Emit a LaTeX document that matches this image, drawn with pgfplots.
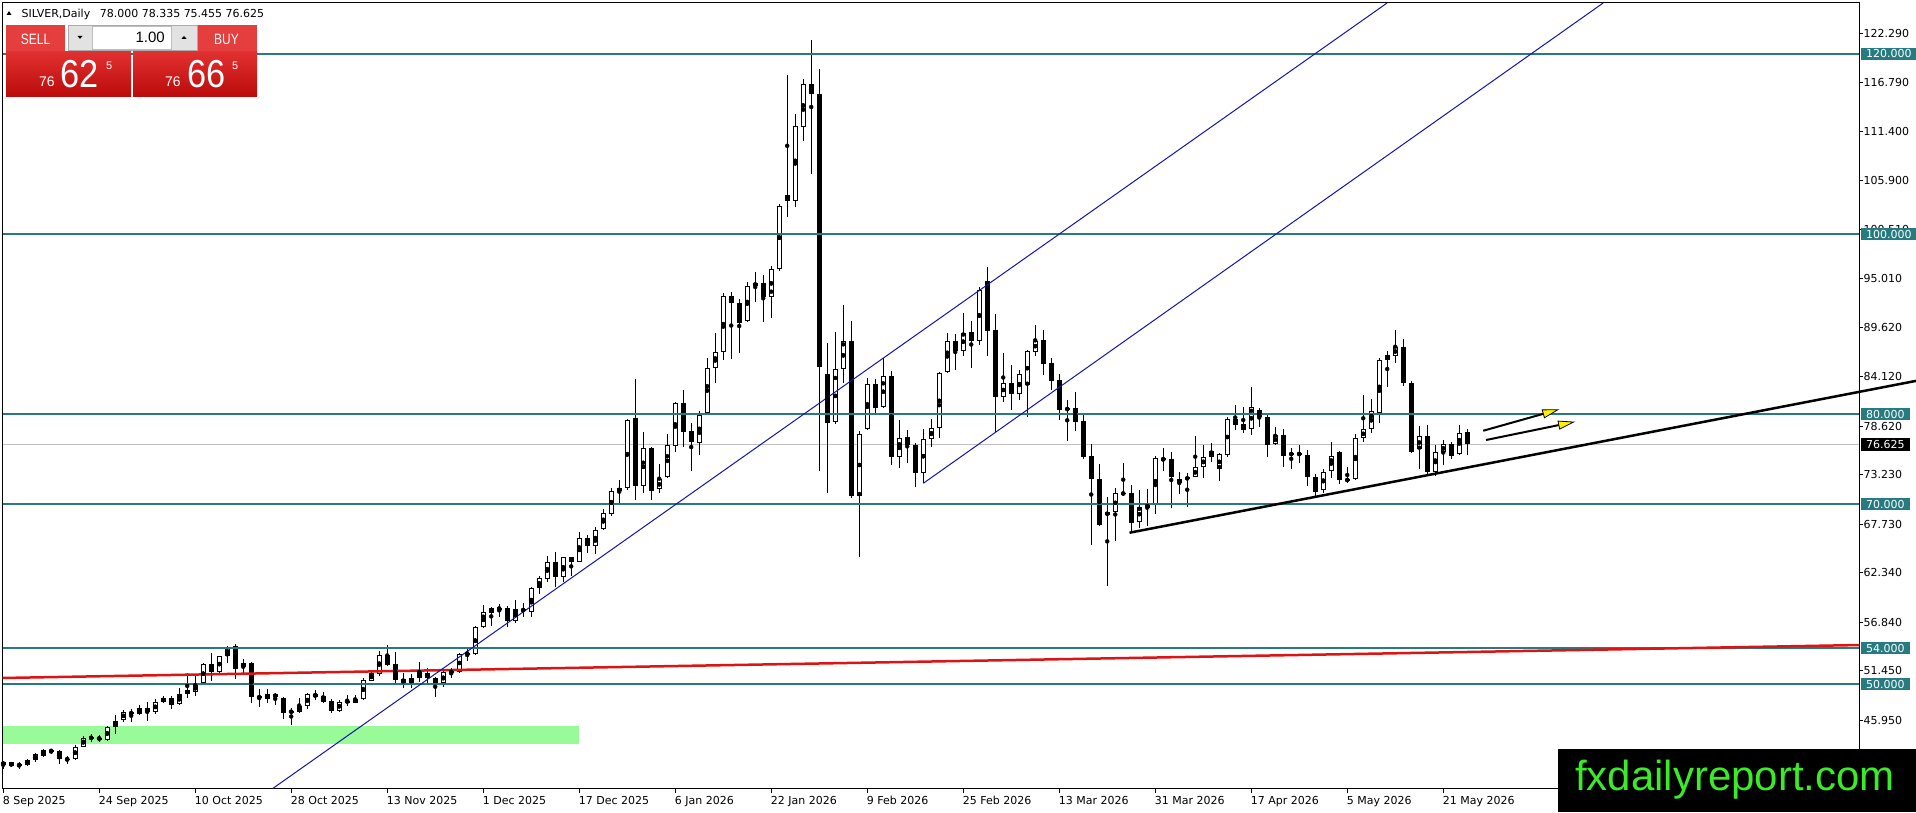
\documentclass[border=0pt]{standalone}
\usepackage{fontspec}
\setmainfont{DejaVu Sans}
\newfontfamily\lib{Liberation Sans}
\usepackage{pgfplots}
\pgfplotsset{compat=1.18}
\usepackage{pgfplotstable}
\usetikzlibrary{arrows.meta}

\definecolor{lvl}{RGB}{38,122,128}
\definecolor{chan}{RGB}{20,20,170}
\definecolor{trend}{RGB}{220,20,20}
\definecolor{zone}{RGB}{152,251,152}
\definecolor{bidgray}{RGB}{192,192,192}
\definecolor{tabred}{RGB}{228,62,62}
\definecolor{tabline}{RGB}{242,150,150}
\definecolor{blktop}{RGB}{226,48,48}
\definecolor{blkbot}{RGB}{186,10,10}
\definecolor{spinfill}{RGB}{226,226,226}
\definecolor{spinborder}{RGB}{170,170,170}
\definecolor{inborder}{RGB}{190,190,190}
\definecolor{wmgreen}{RGB}{60,235,40}

\pgfplotstableread{
i o h l c
0 40.96 41.48 40.56 41.37
1 41.30 41.37 40.78 40.85
2 40.85 41.30 40.59 41.15
3 41.04 41.67 40.85 41.52
4 41.52 42.37 41.30 42.22
5 42.04 42.78 41.93 42.63
6 42.59 42.81 42.18 42.55
7 42.55 42.67 41.07 41.63
8 41.67 42.04 41.15 41.63
9 41.70 43.19 41.56 43.04
10 43.00 44.22 42.96 44.04
11 44.00 44.44 43.60 44.04
12 43.93 44.30 43.60 43.96
13 43.78 45.33 43.70 45.22
14 45.18 46.56 44.48 45.93
15 46.04 47.11 45.81 46.89
16 46.89 47.22 45.74 46.63
17 46.63 47.67 46.56 47.30
18 47.33 47.96 45.85 46.89
19 46.93 48.33 46.63 47.96
20 47.96 48.63 47.85 48.48
21 48.44 48.67 47.26 47.70
22 47.74 49.52 47.67 48.85
23 48.89 51.19 48.40 49.33
24 49.15 51.07 48.67 49.89
25 50.07 52.30 50.00 52.22
26 52.22 53.48 50.37 51.37
27 51.37 53.15 51.26 53.07
28 53.11 54.22 52.37 54.15
29 54.22 54.44 50.52 51.70
30 51.85 52.74 51.11 52.33
31 52.37 52.48 47.85 48.59
32 48.67 49.41 47.48 48.40
33 48.37 49.41 47.85 48.85
34 48.89 49.04 47.67 48.52
35 48.48 48.59 46.07 46.81
36 46.96 47.30 45.48 46.89
37 46.93 48.41 46.81 47.56
38 47.52 49.04 47.22 48.93
39 48.85 49.33 48.22 48.59
40 48.67 49.11 47.93 48.04
41 48.15 48.30 46.81 47.04
42 47.04 48.22 46.85 48.00
43 48.04 48.74 47.56 48.07
44 47.93 48.74 47.85 48.33
45 48.30 50.63 48.22 50.44
46 50.37 51.56 50.33 51.19
47 51.11 53.67 50.89 53.22
48 53.22 54.33 52.00 52.11
49 52.22 53.52 50.15 50.44
50 50.56 51.26 49.52 50.07
51 50.15 51.11 49.52 50.63
52 50.63 52.44 50.26 51.37
53 51.26 51.74 50.07 50.63
54 50.63 50.81 48.59 50.07
55 50.07 51.63 49.63 51.33
56 51.33 51.74 50.63 51.37
57 51.37 53.41 51.26 53.30
58 53.37 53.85 52.59 53.41
59 53.33 56.44 53.22 56.30
60 56.30 58.78 56.19 57.96
61 57.93 58.59 56.44 58.44
62 58.37 58.89 57.48 58.40
63 58.44 58.67 56.37 57.04
64 57.04 59.33 56.81 58.30
65 58.33 58.96 57.48 58.07
66 58.04 60.74 57.41 60.63
67 60.63 61.96 60.00 61.74
68 61.70 64.22 61.33 63.52
69 63.52 64.63 60.74 61.85
70 61.85 64.15 61.33 64.07
71 64.07 64.15 62.00 63.59
72 63.59 66.85 63.52 66.19
73 66.19 66.55 64.59 65.37
74 65.37 67.44 64.41 67.07
75 67.19 69.41 67.11 68.96
76 68.85 71.74 68.70 71.41
77 71.40 72.67 70.07 71.74
78 71.74 79.41 71.56 79.33
79 79.59 83.89 70.44 72.04
80 72.04 77.99 71.19 76.22
81 76.26 76.37 70.44 71.48
82 71.63 74.44 71.19 72.74
83 73.04 77.78 72.85 76.56
84 76.48 81.37 75.81 81.19
85 81.19 82.67 76.30 78.04
86 78.11 78.96 73.70 76.93
87 76.81 80.37 75.44 79.89
88 80.15 86.18 80.00 85.07
89 85.07 88.96 83.41 86.85
90 86.85 93.41 86.00 93.11
91 93.11 93.59 86.07 92.30
92 92.30 92.74 86.81 90.07
93 90.33 94.67 90.26 94.22
94 94.26 95.74 92.48 94.52
95 94.52 95.44 90.26 92.96
96 92.96 96.48 90.70 96.07
97 96.07 103.33 95.93 103.11
98 104.33 117.67 101.93 103.70
99 103.70 113.33 102.96 111.99
100 111.93 117.26 110.37 116.63
101 116.63 121.56 106.67 115.52
102 115.55 118.30 73.70 85.18
103 84.44 87.85 71.26 79.04
104 79.07 89.11 78.90 84.96
105 84.96 92.07 83.41 88.07
106 88.07 90.30 70.63 70.89
107 70.93 78.15 64.07 77.74
108 78.30 83.96 78.22 83.33
109 83.33 83.85 80.15 80.70
110 80.74 86.18 80.63 84.22
111 84.22 84.81 74.33 75.19
112 75.19 79.33 73.96 77.30
113 77.41 78.22 74.59 76.52
114 76.56 76.81 71.93 73.41
115 73.41 78.30 72.37 77.19
116 77.19 79.41 76.37 78.41
117 78.41 84.63 77.33 84.52
118 84.70 89.04 84.59 88.11
119 88.11 88.89 84.89 87.04
120 87.04 91.19 86.48 89.04
121 89.07 90.30 85.15 88.15
122 88.15 94.15 87.67 93.78
123 94.81 96.30 86.48 89.26
124 89.33 91.11 78.04 81.93
125 81.93 86.74 81.37 83.41
126 83.41 85.44 80.44 82.19
127 82.19 84.89 81.56 84.44
128 83.22 87.10 79.63 86.96
129 86.93 89.89 86.48 88.15
130 88.22 89.33 84.33 85.56
131 85.63 86.18 82.67 83.70
132 83.78 84.50 79.33 80.44
133 80.59 81.56 77.04 80.52
134 80.63 82.44 78.15 79.15
135 79.22 79.89 74.96 75.26
136 75.33 76.67 65.44 72.74
137 72.78 74.44 67.56 67.67
138 68.74 70.81 60.89 69.11
139 69.07 71.74 65.93 71.19
140 71.15 74.52 70.89 71.19
141 71.19 72.11 66.81 67.93
142 68.04 71.56 67.37 69.70
143 69.52 71.63 67.56 70.00
144 70.00 75.33 68.89 75.07
145 75.07 76.19 73.70 74.89
146 75.00 75.81 69.52 72.96
147 72.30 73.59 71.11 72.78
148 72.96 73.48 69.70 72.74
149 72.96 77.56 72.96 74.07
150 74.07 76.56 72.85 75.26
151 75.26 76.74 74.70 75.89
152 73.85 75.63 72.59 75.52
153 75.48 79.63 75.26 79.41
154 79.41 81.00 78.22 78.81
155 78.85 80.81 77.85 78.22
156 78.30 83.04 77.67 80.74
157 80.44 80.63 78.59 79.63
158 79.63 79.89 75.26 76.56
159 76.63 78.59 76.56 77.63
160 77.63 78.30 74.15 75.37
161 75.41 76.19 73.85 75.70
162 75.70 76.56 74.59 75.41
163 75.44 76.00 72.00 72.96
164 72.96 73.30 70.90 71.30
165 71.60 73.85 71.20 73.59
166 73.67 76.85 72.85 75.33
167 75.78 75.89 72.22 72.63
168 72.74 74.15 72.30 72.59
169 72.74 77.78 72.67 77.30
170 77.30 82.11 76.93 78.30
171 78.30 81.63 77.93 80.30
172 80.07 86.19 78.96 85.96
173 85.96 87.04 82.96 86.52
174 86.48 89.33 85.63 87.41
175 87.41 88.30 83.11 83.41
176 83.41 83.70 75.63 75.81
177 76.07 78.67 73.85 77.59
178 77.59 78.78 73.11 73.59
179 73.59 76.56 73.11 75.74
180 75.74 77.11 74.33 76.63
181 76.63 76.93 74.96 75.37
182 75.52 78.78 75.44 77.93
183 78.00 78.335 75.455 76.625
}\candles

\begin{document}
\begin{tikzpicture}[x=1pt,y=1pt]
\begin{axis}[
  at={(2.7pt,23.5pt)}, anchor=south west, scale only axis,
  width=1856.6pt, height=785.5pt,
  xmin=-0.06, xmax=232.01, ymin=38.39, ymax=125.667,
  clip=false,
  axis line style={black, line width=1pt},
  tick align=outside, major tick length=4pt,
  tick style={black, line width=1pt},
  xtick pos=left, ytick pos=right,
  xticklabel pos=left, yticklabel pos=right,
  xtick={0,12,24,36,48,60,72,84,96,108,120,132,144,156,168,180},
  xticklabels={8 Sep 2025,24 Sep 2025,10 Oct 2025,28 Oct 2025,13 Nov 2025,1 Dec 2025,17 Dec 2025,6 Jan 2026,22 Jan 2026,9 Feb 2026,25 Feb 2026,13 Mar 2026,31 Mar 2026,17 Apr 2026,5 May 2026,21 May 2026},
  ytick={45.95,51.45,56.84,62.34,67.73,73.23,78.62,84.12,89.62,95.01,100.51,105.90,111.40,116.79,122.29},
  yticklabels={45.950,51.450,56.840,62.340,67.730,73.230,78.620,84.120,89.620,95.010,100.510,105.900,111.400,116.790,122.290},
  tick label style={font=\fontsize{11}{13}\selectfont},
  xticklabel style={anchor=base west, xshift=-0.5pt, yshift=-11.5pt, inner sep=0pt},
  yticklabel style={anchor=west, inner sep=0pt},
  minor tick num=0,
]
% support zone
\addplot[fill=zone, draw=none] coordinates {(-0.06,43.37) (72,43.37) (72,45.33) (-0.06,45.33)} -- cycle;
% bid line
\addplot[bidgray, line width=1pt] coordinates {(-0.06,76.625) (232.01,76.625)};
% wicks
\addplot[only marks, mark=none, error bars/.cd, y dir=both, y explicit, error mark=none,
  error bar style={black, line width=1pt}]
  table[x=i, y expr={(\thisrow{h}+\thisrow{l})/2}, y error expr={(\thisrow{h}-\thisrow{l})/2}] {\candles};
% bodies
\addplot[only marks, mark=none, error bars/.cd, y dir=both, y explicit, error mark=none,
  error bar style={black, line width=5pt}]
  table[x=i, y expr={(\thisrow{o}+\thisrow{c})/2}, y error expr={max(abs(\thisrow{c}-\thisrow{o})/2,0.06)}] {\candles};
\addplot[only marks, mark=none, error bars/.cd, y dir=both, y explicit, error mark=none,
  error bar style={white, line width=3pt}]
  table[x=i, y expr={(\thisrow{o}+\thisrow{c})/2}, y error expr={ifthenelse(\thisrow{c}>\thisrow{o}, max((\thisrow{c}-\thisrow{o})/2-0.111,0), 0)}] {\candles};
% horizontal levels
\addplot[lvl, line width=2pt] coordinates {(-0.06,120) (232.01,120)};
\addplot[lvl, line width=2pt] coordinates {(-0.06,100) (232.01,100)};
\addplot[lvl, line width=2pt] coordinates {(-0.06,80) (232.01,80)};
\addplot[lvl, line width=2pt] coordinates {(-0.06,70) (232.01,70)};
\addplot[lvl, line width=2pt] coordinates {(-0.06,54) (232.01,54)};
\addplot[lvl, line width=2pt] coordinates {(-0.06,50) (232.01,50)};
% red trend line
\addplot[trend, line width=2.5pt] coordinates {(-0.06,50.67) (232.01,54.33)};
% blue channel
\addplot[chan, line width=1pt] coordinates {(33.69,38.39) (172.98,125.667)};
\addplot[chan, line width=1pt] coordinates {(115.01,72.30) (199.99,125.667)};
% black rising support
\addplot[black, line width=2.5pt] coordinates {(140.79,66.81) (239.1,83.68)};
% arrows
\addplot[black, line width=2pt, -{Triangle[length=17pt,width=9pt,fill=yellow,line width=0.8pt]}] coordinates {(185.0,78.14) (194.51,80.52)};
\addplot[black, line width=2pt, -{Triangle[length=17pt,width=9pt,fill=yellow,line width=0.8pt]}] coordinates {(185.35,77.11) (196.48,79.14)};
% anchors for price boxes
\coordinate (l120) at (axis cs:232.01,120);
\coordinate (l100) at (axis cs:232.01,100);
\coordinate (l80) at (axis cs:232.01,80);
\coordinate (l70) at (axis cs:232.01,70);
\coordinate (l54) at (axis cs:232.01,54);
\coordinate (l50) at (axis cs:232.01,50);
\coordinate (lbid) at (axis cs:232.01,76.625);
\end{axis}

% price level boxes
\tikzset{pbox/.style={anchor=west, text=white, inner xsep=5pt, inner ysep=2.3pt, text height=8pt, text depth=0pt, font=\fontsize{11}{13}\selectfont}}
\node[pbox, fill=lvl] at ([xshift=1.7pt]l120) {120.000};
\node[pbox, fill=lvl] at ([xshift=1.7pt]l100) {100.000};
\node[pbox, fill=lvl] at ([xshift=1.7pt]l80) {80.000};
\node[pbox, fill=lvl] at ([xshift=1.7pt]l70) {70.000};
\node[pbox, fill=lvl] at ([xshift=1.7pt]l54) {54.000};
\node[pbox, fill=lvl] at ([xshift=1.7pt]l50) {50.000};
\node[pbox, fill=black] at ([xshift=1.7pt]lbid) {76.625};

% header
\fill[black] (6.5,797) -- (11.5,797) -- (9,801) -- cycle;
\node[anchor=base west, inner sep=0pt, font=\fontsize{11}{13}\selectfont] at (21.5,794.7) {SILVER,Daily\hspace{6pt} 78.000 78.335 75.455 76.625};

% trade panel
\fill[tabred] (6,760) rectangle (65,787);
\fill[tabred] (198,760) rectangle (257,787);
\draw[tabline, line width=0.8pt] (10,760.6) -- (62,760.6);
\draw[tabline, line width=0.8pt] (201,760.6) -- (254,760.6);
\node[text=white, anchor=base, inner sep=0pt, xscale=0.8, font=\lib\fontsize{15}{17}\selectfont] at (35.5,767.7) {SELL};
\node[text=white, anchor=base, inner sep=0pt, xscale=0.8, font=\lib\fontsize{15}{17}\selectfont] at (226.5,767.7) {BUY};
\filldraw[fill=spinfill, draw=spinborder, line width=0.8pt] (68,762) rectangle (197,787);
\filldraw[fill=white, draw=inborder, line width=0.6pt] (92,763) rectangle (171,786);
\fill[black] (77.5,776) -- (82.5,776) -- (80,773.2) -- cycle;
\fill[black] (181.5,773.2) -- (186.5,773.2) -- (184,776) -- cycle;
\node[anchor=base east, inner sep=0pt, font=\lib\fontsize{15}{17}\selectfont] at (165,769.3) {1.00};
\shade[top color=blktop, bottom color=blkbot] (6,715) rectangle (131,760);
\shade[top color=blktop, bottom color=blkbot] (133,715) rectangle (257,760);
\node[text=white, anchor=base west, inner sep=0pt, font=\lib\fontsize{14}{16}\selectfont] at (39,725) {76};
\node[text=white, anchor=base west, inner sep=0pt, xscale=0.88, font=\lib\fontsize{39}{41}\selectfont] at (60,724) {62};
\node[text=white, anchor=base west, inner sep=0pt, font=\lib\fontsize{11}{13}\selectfont] at (106,742) {5};
\node[text=white, anchor=base west, inner sep=0pt, font=\lib\fontsize{14}{16}\selectfont] at (165,725) {76};
\node[text=white, anchor=base west, inner sep=0pt, xscale=0.88, font=\lib\fontsize{39}{41}\selectfont] at (187,724) {66};
\node[text=white, anchor=base west, inner sep=0pt, font=\lib\fontsize{11}{13}\selectfont] at (232,742) {5};

% watermark
\fill[black] (1558,0) rectangle (1916,63);
\node[anchor=base west, inner sep=0pt, text=wmgreen, font=\lib\fontsize{42}{44}\selectfont] at (1575,22) {fxdailyreport.com};

\pgfresetboundingbox
\useasboundingbox (0,0) rectangle (1916,812);
\end{tikzpicture}
\end{document}
